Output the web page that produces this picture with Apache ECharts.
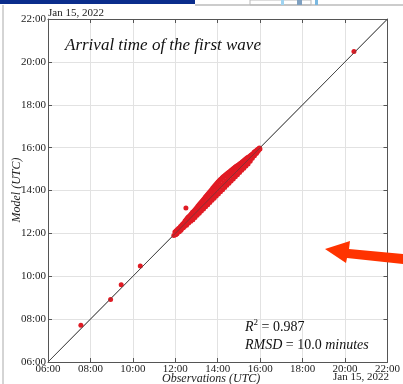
<!DOCTYPE html>
<html><head><meta charset="utf-8">
<script src="https://cdn.jsdelivr.net/npm/echarts@6/dist/echarts.min.js"></script>
<style>html,body{margin:0;padding:0;background:#fff;}#c{width:403px;height:384px;}</style>
</head><body><div id="c"></div>
<script>
// Hours (UTC) on Jan 15, 2022
const axisTicks = [6, 8, 10, 12, 14, 16, 18, 20, 22];
const diagonal = [[6, 6], [22, 22]];
const outlierPoints = [[7.55,7.72],[8.95,8.92],[9.45,9.60],[10.35,10.48],[12.50,13.18],[20.42,20.48]];
const clusterPoints = [
[11.93,11.90],[11.98,12.06],[12.02,11.94],[12.04,12.12],
[12.08,11.98],[12.10,12.18],[12.13,12.06],[12.16,12.24],
[12.19,12.08],[12.21,12.20],[12.24,12.32],[12.27,12.15],
[12.30,12.38],[12.32,12.24],[12.35,12.44],[12.38,12.26],
[12.41,12.50],[12.43,12.32],[12.46,12.58],[12.48,12.42],
[12.51,12.64],[12.53,12.38],[12.56,12.70],[12.58,12.52],
[12.61,12.76],[12.63,12.48],[12.66,12.80],[12.68,12.62],
[12.71,12.86],[12.73,12.56],[12.76,12.92],[12.78,12.72],
[12.81,12.98],[12.83,12.64],[12.86,13.02],[12.88,12.82],
[12.91,13.08],[12.93,12.74],[12.96,13.14],[12.98,12.94],
[13.01,13.20],[13.03,12.84],[13.06,13.26],[13.08,13.04],
[13.11,13.32],[13.13,12.94],[13.16,13.38],[13.18,13.14],
[13.21,13.44],[13.23,13.04],[13.26,13.50],[13.28,13.24],
[13.31,13.56],[13.33,13.14],[13.36,13.62],[13.38,13.36],
[13.41,13.68],[13.43,13.24],[13.46,13.74],[13.48,13.48],
[13.51,13.80],[13.53,13.34],[13.56,13.86],[13.58,13.58],
[13.61,13.92],[13.63,13.44],[13.66,13.98],[13.68,13.70],
[13.71,14.04],[13.73,13.54],[13.76,14.10],[13.78,13.82],
[13.81,14.16],[13.83,13.64],[13.86,14.22],[13.88,13.94],
[13.91,14.28],[13.93,13.74],[13.96,14.34],[13.98,14.06],
[14.01,14.40],[14.03,13.84],[14.06,14.44],[14.08,14.16],
[14.11,14.50],[14.13,13.94],[14.16,14.54],[14.18,14.26],
[14.21,14.60],[14.23,14.04],[14.26,14.64],[14.28,14.36],
[14.31,14.68],[14.33,14.14],[14.36,14.72],[14.38,14.46],
[14.41,14.76],[14.43,14.24],[14.46,14.80],[14.48,14.56],
[14.51,14.84],[14.53,14.34],[14.56,14.88],[14.58,14.66],
[14.61,14.92],[14.63,14.44],[14.66,14.96],[14.68,14.76],
[14.71,15.00],[14.73,14.54],[14.76,15.04],[14.78,14.84],
[14.81,15.08],[14.83,14.64],[14.86,15.12],[14.88,14.94],
[14.91,15.16],[14.93,14.74],[14.96,15.18],[14.98,15.02],
[15.01,15.22],[15.03,14.84],[15.06,15.26],[15.08,15.10],
[15.11,15.30],[15.13,14.94],[15.16,15.34],[15.18,15.20],
[15.21,15.38],[15.23,15.04],[15.26,15.42],[15.28,15.28],
[15.31,15.46],[15.33,15.14],[15.36,15.50],[15.38,15.36],
[15.41,15.54],[15.43,15.24],[15.46,15.56],[15.48,15.42],
[15.51,15.60],[15.53,15.36],[15.56,15.64],[15.58,15.50],
[15.61,15.68],[15.63,15.50],[15.66,15.72],[15.68,15.62],
[15.71,15.78],[15.73,15.62],[15.76,15.82],[15.78,15.72],
[15.81,15.86],[15.83,15.74],[15.86,15.90],[15.88,15.82],
[15.91,15.94],[15.93,15.88],[15.96,15.98],[15.99,15.94]
];
const titleText = 'Arrival time of the first wave';
const xName = 'Observations (UTC)';
const yName = 'Model (UTC)';
const dateText = 'Jan 15, 2022';

const fmt = v => (v < 10 ? '0' : '') + v + ':00';
const serif = 'Liberation Serif';
const chart = echarts.init(document.getElementById('c'), null, {renderer: 'canvas'});
const lab = {fontFamily: serif, fontSize: 11, color: '#222'};
const baseAxis = {
  type: 'value', min: 6, max: 22, interval: 2,
  axisLine: {show: true, onZero: false, lineStyle: {color: '#555', width: 1}},
  axisTick: {show: true, inside: true, length: 4, lineStyle: {color: '#555'}},
  splitLine: {show: false}
};
chart.setOption({
  animation: false,
  backgroundColor: '#fff',
  grid: {left: 48, right: 13, top: 19, bottom: 22},
  xAxis: [
    Object.assign({}, baseAxis, {position: 'bottom', axisLabel: Object.assign({formatter: fmt, margin: 2}, lab),
      splitLine: {show: true, lineStyle: {color: '#e2e2e2', width: 1}}}),
    Object.assign({}, baseAxis, {position: 'top', axisLabel: {show: false}})
  ],
  yAxis: [
    Object.assign({}, baseAxis, {position: 'left', axisLabel: Object.assign({formatter: fmt, margin: 2}, lab),
      splitLine: {show: true, lineStyle: {color: '#e2e2e2', width: 1}}}),
    Object.assign({}, baseAxis, {position: 'right', axisLabel: {show: false}})
  ],
  series: [
    {type: 'line', data: diagonal, symbol: 'none', lineStyle: {color: '#555', width: 1}, z: 1},
    {type: 'scatter', data: clusterPoints, symbolSize: 5, itemStyle: {color: '#e01b24', opacity: 1}, z: 3},
    {type: 'scatter', data: outlierPoints, symbolSize: 5, itemStyle: {color: '#e01b24', opacity: 1}, z: 3},
    {type: 'line', data: diagonal, symbol: 'none', lineStyle: {color: '#444', width: 1, opacity: 0.6}, z: 4}
  ],
  graphic: [
    {type: 'rect', shape: {x: 0, y: 0, width: 195, height: 4}, style: {fill: '#0a2d8c'}, z: 10},
    {type: 'line', shape: {x1: 195, y1: 5, x2: 403, y2: 5}, style: {stroke: '#999', lineWidth: 1}, z: 10},
    {type: 'line', shape: {x1: 3, y1: 5, x2: 3, y2: 384}, style: {stroke: '#aaa', lineWidth: 1}, z: 10},
    {type: 'rect', shape: {x: 250, y: 0, width: 61, height: 5}, style: {fill: 'none', stroke: '#bbb', lineWidth: 1}, z: 10},
    {type: 'rect', shape: {x: 281, y: 0, width: 3, height: 5}, style: {fill: '#9fd3f0'}, z: 10},
    {type: 'rect', shape: {x: 297, y: 0, width: 5, height: 5}, style: {fill: '#7fa0c0'}, z: 10},
    {type: 'rect', shape: {x: 315, y: 0, width: 3, height: 5}, style: {fill: '#7ab8e0'}, z: 10},
    {type: 'text', left: 65, top: 37, style: {text: titleText, font: 'italic 17px ' + serif, fill: '#111'}, z: 10},
    {type: 'text', left: 48, top: 8, style: {text: dateText, font: '11px ' + serif, fill: '#222'}, z: 10},
    {type: 'text', left: 333, top: 372, style: {text: dateText, font: '11px ' + serif, fill: '#222'}, z: 10},
    {type: 'text', left: 162, top: 373, style: {text: xName, font: 'italic 12px ' + serif, fill: '#222'}, z: 10},
    {type: 'text', x: 17, y: 190, rotation: Math.PI / 2, style: {text: yName, font: 'italic 12px ' + serif, fill: '#222', align: 'center', verticalAlign: 'middle'}, z: 10},
    {type: 'text', left: 245, top: 318, style: {
      text: '{i|R}{s|2} = 0.987\n{i|RMSD} = 10.0 {i|minutes}', font: '14px ' + serif, fill: '#111', lineHeight: 18,
      rich: {i: {font: 'italic 14px ' + serif, fill: '#111'}, s: {font: '9px ' + serif, fill: '#111', verticalAlign: 'top', padding: [0,0,6,0]}}
    }, z: 10},
    {type: 'polygon', shape: {points: [[325,249],[350,241],[349,249],[403,254],[403,264],[347,258],[346,263]]}, style: {fill: '#ff3300'}, z: 12}
  ]
});
</script></body></html>
